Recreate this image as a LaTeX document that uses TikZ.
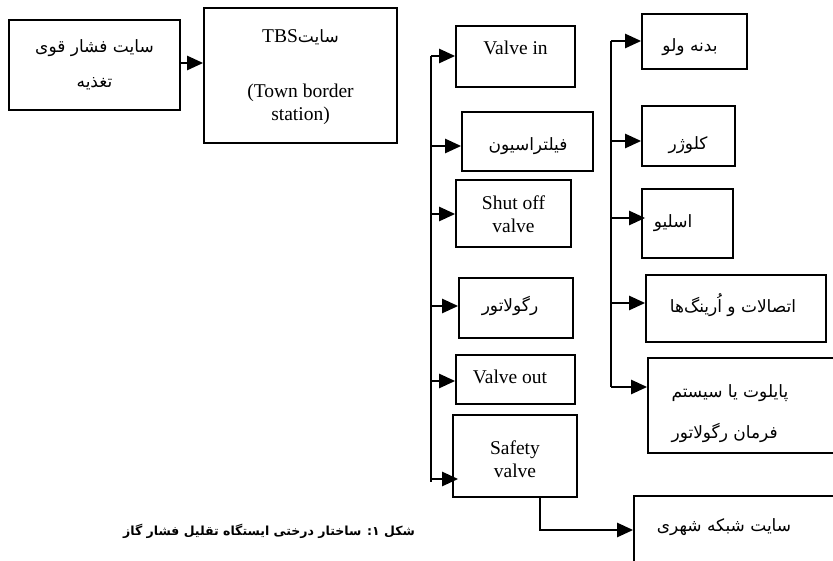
\documentclass[tikz,border=0pt]{standalone}
\usepackage{fontspec}
\setmainfont{Liberation Serif}
\newfontfamily\ar[Script=Arabic]{DejaVu Sans}
\TeXXeTstate=1
\usetikzlibrary{arrows.meta,calc}
\tikzset{
  box/.style={draw, line width=1.7pt, inner sep=0pt},
  arr/.style={line width=2.4pt, -{Triangle[length=16pt,width=14pt]}},
  trunk/.style={line width=2.4pt},
  lat/.style={font=\fontsize{19.5}{23}\selectfont, align=center},
  fa/.style={font=\ar\fontsize{17}{20}\selectfont, align=center},
}
\begin{document}
\begin{tikzpicture}[x=1pt,y=-1pt]
\useasboundingbox (0,0) rectangle (833,561);
\clip (0,0) rectangle (833,561);
% boxes
\node[box, minimum width=171pt, minimum height=90pt] (feed) at (94.5,65) {};
\node[box, minimum width=193pt, minimum height=135pt] (tbs) at (300.5,75.5) {};
\node[box, minimum width=119pt, minimum height=61pt] (vin) at (515.5,56.5) {};
\node[box, minimum width=131pt, minimum height=59pt] (filt) at (527.5,141.5) {};
\node[box, minimum width=115pt, minimum height=67pt] (shut) at (513.5,213.5) {};
\node[box, minimum width=114pt, minimum height=60pt] (reg) at (516,308) {};
\node[box, minimum width=119pt, minimum height=49pt] (vout) at (515.5,379.5) {};
\node[box, minimum width=124pt, minimum height=82pt] (safe) at (515,456) {};
\node[box, minimum width=105pt, minimum height=55pt] (body) at (694.5,41.5) {};
\node[box, minimum width=93pt, minimum height=60pt] (clos) at (688.5,136) {};
\node[box, minimum width=91pt, minimum height=69pt] (sleeve) at (687.5,223.5) {};
\node[box, minimum width=180pt, minimum height=67pt] (fitting) at (736,308.5) {};
\node[box, minimum width=202pt, minimum height=95pt] (pilot) at (749,405.5) {};
\node[box, minimum width=216pt, minimum height=84pt] (city) at (742,538) {};
% texts
\node[fa] (tfeed1) at (94.5,48) {\beginR سایت فشار قوی\endR};
\node[fa] (tfeed2) at (94.5,84) {\beginR تغذیه\endR};
\node[fa] (ttbs1) at (300.5,37) {\beginR سایت\beginL\fontsize{19.5}{23}\fontspec{Liberation Serif}TBS\endL\endR};
\node[lat] (ttbs2) at (300.5,104) {(Town border\\station)};
\node[lat] (tvin) at (515.5,48) {Valve in};
\node[fa] (tfilt) at (528,146) {\beginR فیلتراسیون\endR};
\node[lat] (tshut) at (513.5,214) {Shut off\\valve};
\node[fa] (treg) at (510,306) {\beginR رگولاتور\endR};
\node[lat] (tvout) at (510,377) {Valve out};
\node[lat] (tsafe) at (515,459) {Safety\\valve};
\node[fa] (tbody) at (690,47) {\beginR بدنه ولو\endR};
\node[fa] (tclos) at (688,145) {\beginR کلوژر\endR};
\node[fa] (tsleeve) at (673,223) {\beginR اسلیو\endR};
\node[fa] (tfit) at (733,305) {\beginR اتصالات و اُرینگ‌ها\endR};
\node[fa, anchor=west] (tpil1) at (668,393) {\beginR پایلوت یا سیستم\endR};
\node[fa, anchor=west] (tpil2) at (668,433) {\beginR فرمان رگولاتور\endR};
\node[fa] (tcity) at (724,527) {\beginR سایت شبکه شهری\endR};
\node[font=\ar\bfseries\fontsize{12.5}{16}\selectfont] (cap) at (269,531) {\beginR شکل ۱: ساختار درختی ایستگاه تقلیل فشار گاز\endR};
% connectors
\draw[arr] ([yshift=2pt]feed.east) -- ([yshift=2pt]feed.east -| tbs.west);
% left trunk
\coordinate (L1) at (431,56);
\coordinate (L2) at (431,146);
\coordinate (L3) at (431,214);
\coordinate (L4) at (431,306);
\coordinate (L5) at (431,381);
\coordinate (L6) at (431,479);
\coordinate (Lb) at (431,482);
\draw[trunk] (L1) -- (Lb);
\draw[arr] (L1) -- (L1 -| vin.west);
\draw[arr] (L2) -- (L2 -| filt.west);
\draw[arr] (L3) -- (L3 -| shut.west);
\draw[arr] (L4) -- (L4 -| reg.west);
\draw[arr] (L5) -- (L5 -| vout.west);
\draw[arr] (L6) -- ([xshift=6pt]L6 -| safe.west);
% right trunk
\coordinate (R1) at (611,41);
\coordinate (R2) at (611,141);
\coordinate (R3) at (611,218);
\coordinate (R4) at (611,303);
\coordinate (R5) at (611,387);
\draw[trunk] (R1) -- (R5);
\draw[arr] (R1) -- (R1 -| body.west);
\draw[arr] (R2) -- (R2 -| clos.west);
\draw[arr] (R3) -- ([xshift=4pt]R3 -| sleeve.west);
\draw[arr] (R4) -- (R4 -| fitting.west);
\draw[arr] (R5) -- (R5 -| pilot.west);
% safety to city
\coordinate (S1) at (540,530);
\draw[arr] ([xshift=25pt]safe.south) -- (S1) -- (S1 -| city.west);
\end{tikzpicture}
\end{document}
